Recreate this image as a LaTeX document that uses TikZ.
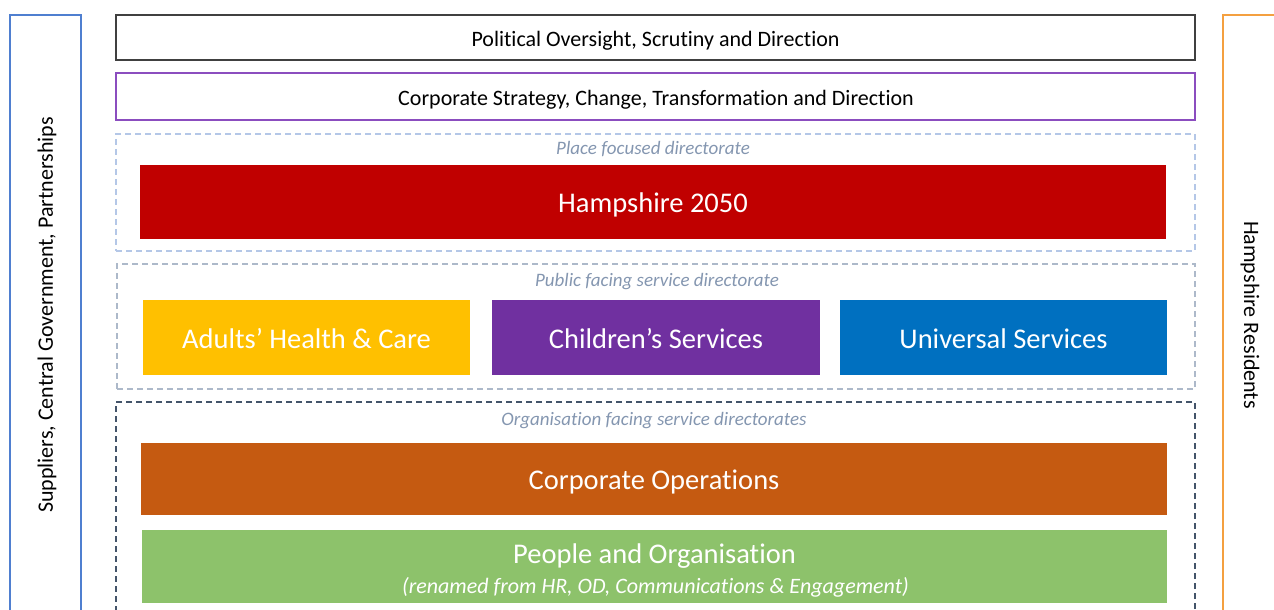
\documentclass[tikz,border=0pt]{standalone}
\usepackage{fontspec}
\setmainfont{Carlito}[Ligatures=NoCommon]
\definecolor{bluepanel}{HTML}{4F7FD0}
\definecolor{orangepanel}{HTML}{F4A040}
\definecolor{topborder}{HTML}{404040}
\definecolor{purpborder}{HTML}{8B4DBF}
\definecolor{dashA}{HTML}{B4C7E7}
\definecolor{dashB}{HTML}{ADB9CA}
\definecolor{dashC}{HTML}{44546A}
\definecolor{labelc}{HTML}{8496B0}
\definecolor{redH}{HTML}{C00000}
\definecolor{yellowA}{HTML}{FFC000}
\definecolor{purpleC}{HTML}{7030A0}
\definecolor{blueU}{HTML}{0070C0}
\definecolor{orangeC}{HTML}{C55A11}
\definecolor{greenP}{HTML}{8DC26B}
\tikzset{
  plain/.style={inner sep=0pt, outer sep=0pt},
  linebox/.style={plain, draw, line width=1.4pt, fill=white},
  boxtext/.style={plain, font=\fontsize{22}{26}\selectfont},
  dashbox/.style={plain, draw, dashed, dash pattern=on 6pt off 4pt, line width=1.1pt},
  grouplabel/.style={plain, text=labelc, font=\itshape\fontsize{19}{22}\selectfont},
  solidbox/.style={plain},
  bigtext/.style={plain, text=white, font=\fontsize{28.5}{32}\selectfont},
  sidepanel/.style={plain, draw, line width=1.2pt},
  sidelabel/.style={plain, font=\fontsize{22}{26}\selectfont}
}
\begin{document}
\begin{tikzpicture}[x=1pt,y=-1pt]
\useasboundingbox (0,0) rectangle (1274,610);
\clip (0,0) rectangle (1274,610);
% side panels
\node[sidepanel, draw=bluepanel, minimum width=71pt, minimum height=625pt] (leftpanel) at (45.5,327.5) {};
\node[sidelabel, rotate=90] (lefttext) at (47,315) {Suppliers, Central Government, Partnerships};
\node[sidepanel, draw=orangepanel, minimum width=77pt, minimum height=625pt] (rightpanel) at (1261.5,327.5) {};
\node[sidelabel, rotate=-90] (righttext) at (1250,315) {Hampshire Residents};
% top boxes
\node[linebox, draw=topborder, minimum width=1079pt, minimum height=45pt] (political) at (655.5,37.5) {};
\node[boxtext] (politicaltext) at (655.5,41) {Political Oversight, Scrutiny and Direction};
\node[linebox, draw=purpborder, minimum width=1079pt, minimum height=47pt] (corpstrat) at (655.5,96.5) {};
\node[boxtext] (corpstrattext) at (656,100) {Corporate Strategy, Change, Transformation and Direction};
% place focused
\node[dashbox, draw=dashA, minimum width=1079pt, minimum height=117pt] (placegroup) at (655.5,192.5) {};
\node[grouplabel] (placelabel) at (653,149) {Place focused directorate};
\node[solidbox, fill=redH, minimum width=1026pt, minimum height=74pt] (hampshire) at (653,202) {};
\node[bigtext] (hampshiretext) at (653,205) {Hampshire 2050};
% public facing
\node[dashbox, draw=dashB, minimum width=1078pt, minimum height=125pt] (publicgroup) at (656,326.5) {};
\node[grouplabel] (publiclabel) at (657,282) {Public facing service directorate};
\node[solidbox, fill=yellowA, minimum width=327pt, minimum height=75pt] (adults) at (306.5,337.5) {};
\node[bigtext] (adultstext) at (306.5,339) {Adults’ Health \& Care};
\node[solidbox, fill=purpleC, minimum width=328pt, minimum height=75pt] (children) at (656,337.5) {};
\node[bigtext] (childrentext) at (656,339) {Children’s Services};
\node[solidbox, fill=blueU, minimum width=327pt, minimum height=75pt] (universal) at (1003.5,337.5) {};
\node[bigtext] (universaltext) at (1003.5,339) {Universal Services};
% organisation facing
\node[dashbox, draw=dashC, minimum width=1079pt, minimum height=238pt] (orggroup) at (655.5,521) {};
\node[grouplabel] (orglabel) at (654,421) {Organisation facing service directorates};
\node[solidbox, fill=orangeC, minimum width=1026pt, minimum height=72pt] (corpops) at (654,479) {};
\node[bigtext] (corpopstext) at (654,482) {Corporate Operations};
\node[solidbox, fill=greenP, minimum width=1025pt, minimum height=73pt] (people) at (654.5,566.5) {};
\node[bigtext] (peopletitle) at (654.5,556) {People and Organisation};
\node[plain, text=white, font=\itshape\fontsize{22}{26}\selectfont] (peoplesub) at (655.5,587) {(renamed from HR, OD, Communications \& Engagement)};
\end{tikzpicture}
\end{document}
